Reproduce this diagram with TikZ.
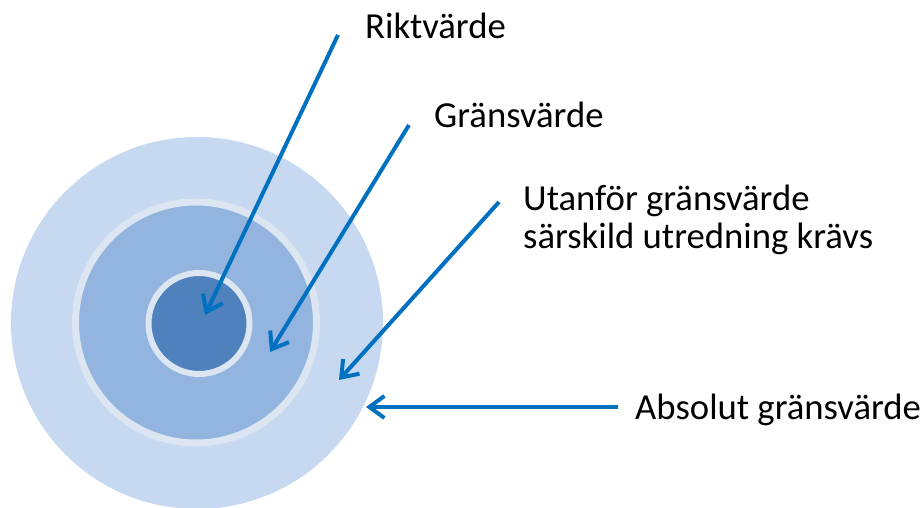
\documentclass[tikz,border=0pt]{standalone}
\usepackage{fontspec}
\setmainfont{Carlito}
\usetikzlibrary{arrows.meta}

\definecolor{ringlight}{HTML}{C6D9F1}
\definecolor{ringmid}{HTML}{92B4DE}
\definecolor{ringdark}{HTML}{4F81BD}
\definecolor{ringgap}{HTML}{DCE6F2}
\definecolor{arrowblue}{HTML}{0070C0}

\begin{document}
\begin{tikzpicture}[x=1pt,y=-1pt,
    lbl/.style={anchor=base west,inner sep=0pt,font=\fontsize{36.7}{40}\selectfont}]
  \useasboundingbox (0,0) rectangle (924,508);

  % target
  \fill[ringlight] (197,323) circle (186);
  \draw[ringgap,line width=7pt,fill=ringmid] (196,322.5) circle (120.5);
  \draw[ringgap,line width=6pt,fill=ringdark] (199,323.5) circle (50.5);

  \node[lbl] (rikt) at (365,39)  {Riktvärde};
  \node[lbl] (grans) at (434,128) {Gränsvärde};
  \node[lbl] (utan) at (523,210) {Utanför gränsvärde};
  \node[lbl] (sarsk) at (523,248) {särskild utredning krävs};
  \node[lbl] (abs) at (635,419) {Absolut gränsvärde};

  \coordinate (riktTail) at (338,35);
  \coordinate (riktTip) at (205,315);
  \coordinate (gransTail) at (409,125);
  \coordinate (gransTip) at (270,352);
  \coordinate (utanTail) at (499,202);
  \coordinate (utanTip) at (339,380);
  \coordinate (absTail) at (618,407);
  \coordinate (absTip) at (366,407);

  \path[color=arrowblue,line width=4pt,
        -{Straight Barb[length=15pt,width=22pt,line width=4pt]}]
    (riktTail) edge (riktTip)
    (gransTail) edge (gransTip)
    (utanTail) edge (utanTip)
    (absTail) edge (absTip);
\end{tikzpicture}
\end{document}
